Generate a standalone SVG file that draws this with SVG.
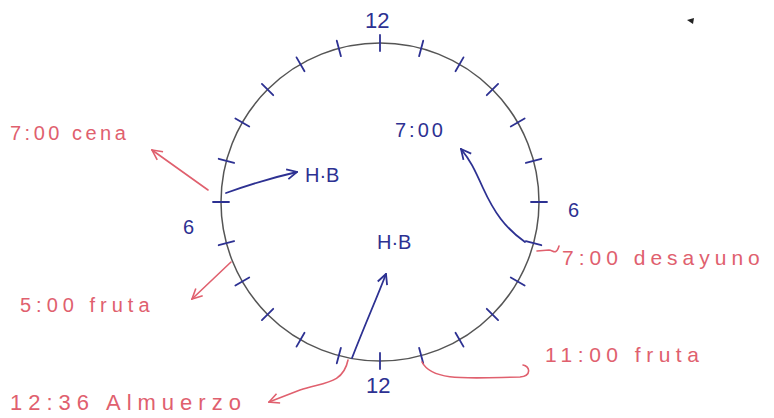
<svg xmlns="http://www.w3.org/2000/svg" xmlns:xlink="http://www.w3.org/1999/xlink" width="774" height="418" viewBox="0 0 774 418">
<style>
.red{fill:#e0606e;font-family:"Liberation Sans",Arial,sans-serif}
.blue{fill:#2d3192;font-family:"Liberation Sans",Arial,sans-serif}
.rl{fill:none;stroke:#e0606e;stroke-width:1.6;stroke-linecap:round}
.bl{fill:none;stroke:#2d3192;stroke-width:1.8;stroke-linecap:round}
.tick{stroke:#2d3192;stroke-width:1.8;stroke-linecap:round}
</style>
<defs>
<marker id="ar" viewBox="0 0 12 12" refX="11" refY="6" markerWidth="12" markerHeight="12" markerUnits="userSpaceOnUse" orient="auto"><path d="M1,1 L11,6 L1,11" fill="none" stroke="#e0606e" stroke-width="1.6"/></marker>
<marker id="ab" viewBox="0 0 12 12" refX="11" refY="6" markerWidth="12" markerHeight="12" markerUnits="userSpaceOnUse" orient="auto"><path d="M1,1 L11,6 L1,11" fill="none" stroke="#2d3192" stroke-width="1.8"/></marker>
<line id="t" class="tick" x1="380" y1="35" x2="380" y2="51"/>
</defs>
<rect width="774" height="418" fill="#fff"/>
<g id="clock">
<circle cx="380" cy="202" r="159" fill="none" stroke="#555" stroke-width="1.5"/>
<use xlink:href="#t"/>
<use xlink:href="#t" transform="rotate(15 380 202)"/>
<use xlink:href="#t" transform="rotate(30 380 202)"/>
<use xlink:href="#t" transform="rotate(45 380 202)"/>
<use xlink:href="#t" transform="rotate(60 380 202)"/>
<use xlink:href="#t" transform="rotate(75 380 202)"/>
<use xlink:href="#t" transform="rotate(90 380 202)"/>
<use xlink:href="#t" transform="rotate(105 380 202)"/>
<use xlink:href="#t" transform="rotate(120 380 202)"/>
<use xlink:href="#t" transform="rotate(135 380 202)"/>
<use xlink:href="#t" transform="rotate(150 380 202)"/>
<use xlink:href="#t" transform="rotate(165 380 202)"/>
<use xlink:href="#t" transform="rotate(180 380 202)"/>
<use xlink:href="#t" transform="rotate(195 380 202)"/>
<use xlink:href="#t" transform="rotate(210 380 202)"/>
<use xlink:href="#t" transform="rotate(225 380 202)"/>
<use xlink:href="#t" transform="rotate(240 380 202)"/>
<use xlink:href="#t" transform="rotate(255 380 202)"/>
<use xlink:href="#t" transform="rotate(270 380 202)"/>
<use xlink:href="#t" transform="rotate(285 380 202)"/>
<use xlink:href="#t" transform="rotate(300 380 202)"/>
<use xlink:href="#t" transform="rotate(315 380 202)"/>
<use xlink:href="#t" transform="rotate(330 380 202)"/>
<use xlink:href="#t" transform="rotate(345 380 202)"/>
<text class="blue" x="365" y="28" font-size="22">12</text>
<text class="blue" x="366" y="393" font-size="22">12</text>
<text class="blue" x="183" y="234" font-size="20">6</text>
<text class="blue" x="568" y="217" font-size="20">6</text>
</g>
<g id="connectors">
<path class="rl" d="M208,190 L152,150" marker-end="url(#ar)"/>
<path class="bl" d="M226,193 Q262,180 297,172" marker-end="url(#ab)"/>
<path class="rl" d="M231,262 L192,299" marker-end="url(#ar)"/>
<path class="bl" d="M352,358 C366,322 376,300 386,274" marker-end="url(#ab)"/>
<path class="rl" d="M348,360 C343,385 322,382 300,390 L269,402" marker-end="url(#ar)"/>
<path class="rl" d="M422,362 C432,382 470,378 520,377 C532,376 530,366 523,365"/>
<path class="rl" d="M537,251 L549,250 C553,250 556,256 559,246"/>
<path class="bl" d="M525,242 C505,228 494,212 483,188 C474,168 470,160 461,149" marker-end="url(#ab)"/>
</g>
<g id="labels">
<text class="red" x="10" y="140" font-size="20" letter-spacing="3.5">7:00 cena</text>
<text class="red" x="20" y="312" font-size="20" letter-spacing="5">5:00 fruta</text>
<text class="red" x="10" y="410" font-size="22" letter-spacing="6">12:36 Almuerzo</text>
<text class="red" x="545" y="362" font-size="21" letter-spacing="5.5">11:00 fruta</text>
<text class="red" x="562" y="265" font-size="21" letter-spacing="5">7:00 desayuno</text>
<text class="blue" x="395" y="137" font-size="20" letter-spacing="3">7:00</text>
<text class="blue" x="305" y="182" font-size="20">H·B</text>
<text class="blue" x="377" y="249" font-size="20">H·B</text>
</g>
<path d="M687,20 L694,18 L693,24 Z" fill="#222"/>
</svg>
